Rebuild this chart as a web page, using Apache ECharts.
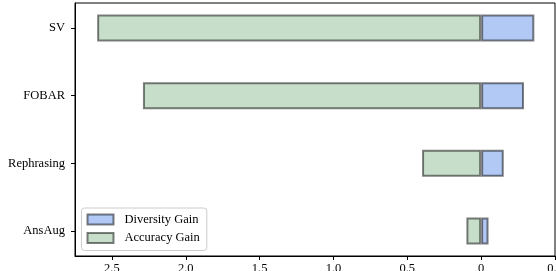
<!DOCTYPE html>
<html><head><meta charset="utf-8">
<script src="https://cdn.jsdelivr.net/npm/echarts@6/dist/echarts.min.js"></script>
<style>html,body{margin:0;padding:0;background:#fff}#c{width:556px;height:271px}</style>
</head><body><div id="c"></div>
<script>
const categories = ['SV', 'FOBAR', 'Rephrasing', 'AnsAug'];
const diversityGain = [-0.36, -0.29, -0.153, -0.05];
const accuracyGain = [2.6, 2.29, 0.40, 0.10];
const xTicks = [-0.5, 0, 0.5, 1.0, 1.5, 2.0, 2.5];

const font = 'Liberation Serif';
const chart = echarts.init(document.getElementById('c'), null, {renderer: 'canvas'});
const xMin = -0.5, xMax = 2.75;
const fmt = v => { const a = Math.abs(v); return a === 0 ? '0' : a.toFixed(1); };
chart.setOption({
  animation: false,
  grid: [
    {left: 75, right: 1, top: 3, bottom: 15, show: true, borderColor: '#000', borderWidth: 1, containLabel: false, outerBoundsMode: 'none'},
    {left: 75, right: 1, top: -5.85, bottom: 6.15, containLabel: false, outerBoundsMode: 'none'}
  ],
  xAxis: [
    {gridIndex: 0, type: 'value', min: xMin, max: xMax, inverse: true,
     axisLine: {show: true, onZero: false, lineStyle: {color: '#000', width: 1}},
     axisTick: {show: true, inside: false, length: 4, lineStyle: {color: '#000'}, customValues: xTicks},
     axisLabel: {show: true, margin: 6, fontFamily: font, fontSize: 12.5, color: '#000', formatter: fmt, customValues: xTicks},
     splitLine: {show: false}},
    {gridIndex: 1, type: 'value', min: xMin, max: xMax, inverse: true, show: false}
  ],
  yAxis: [
    {gridIndex: 0, type: 'value', min: 0, max: 1, axisLine: {show: true, onZero: false, lineStyle: {color: '#000'}},
     axisTick: {show: false}, axisLabel: {show: false}, splitLine: {show: false}},
    {gridIndex: 1, type: 'category', data: categories, inverse: true,
     axisLine: {show: false, onZero: false},
     axisTick: {show: true, alignWithLabel: true, length: 4, lineStyle: {color: '#000'}},
     axisLabel: {margin: 10, fontFamily: font, fontSize: 12.5, color: '#000'}}
  ],
  legend: {
    orient: 'vertical', left: 81.5, top: 208,
    data: ['Diversity Gain', 'Accuracy Gain'],
    itemWidth: 26, itemHeight: 10, itemGap: 5.5,
    padding: [5, 7, 6, 5],
    backgroundColor: 'rgba(255,255,255,0.8)', borderColor: '#cccccc', borderWidth: 1, borderRadius: 3,
    icon: 'rect',
    itemStyle: {borderColor: 'rgba(0,0,0,0.5)', borderWidth: 2},
    textStyle: {fontFamily: font, fontSize: 12.5, color: '#000', padding: [0, 0, 0, 6], lineHeight: 13}
  },
  series: [
    {name: 'Diversity Gain', type: 'bar', xAxisIndex: 1, yAxisIndex: 1, data: diversityGain,
     barWidth: '40%', barGap: '-100%',
     itemStyle: {color: '#b1c9f4', borderColor: 'rgba(0,0,0,0.5)', borderWidth: 2}},
    {name: 'Accuracy Gain', type: 'bar', xAxisIndex: 1, yAxisIndex: 1, data: accuracyGain,
     barWidth: '40%', barGap: '-100%',
     itemStyle: {color: '#c7dfca', borderColor: 'rgba(0,0,0,0.5)', borderWidth: 2}}
  ]
});
</script></body></html>
